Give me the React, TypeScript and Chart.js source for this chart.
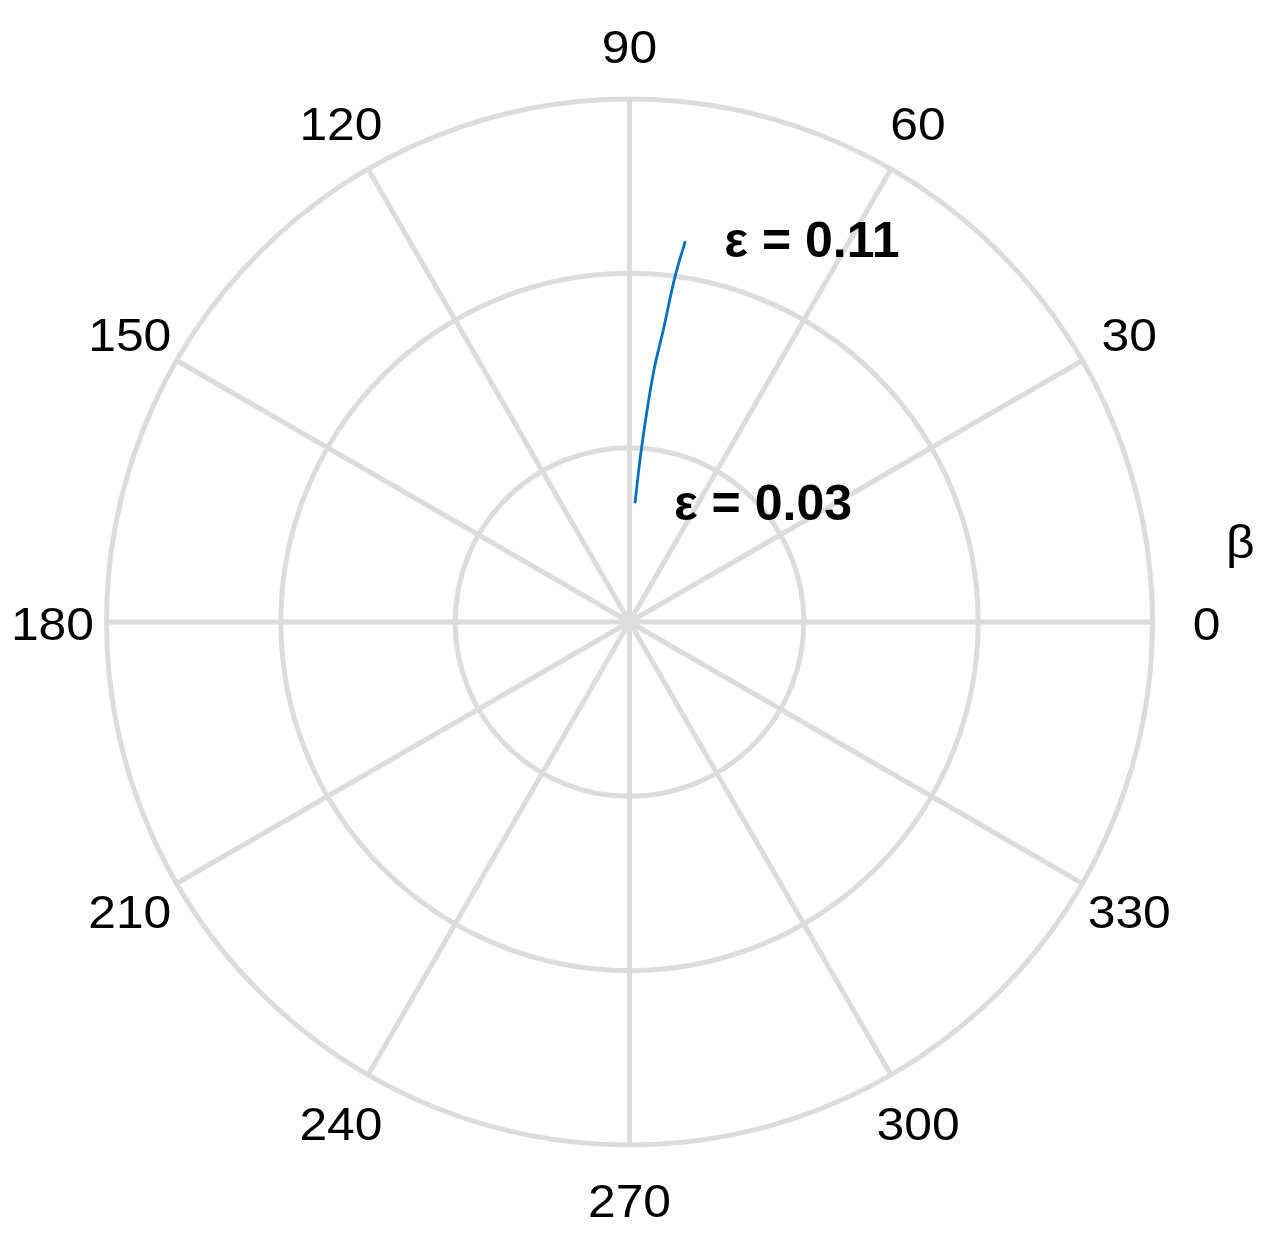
import React, { useEffect, useRef } from "react";
import { Chart, registerables } from "chart.js";

Chart.register(...registerables);

// Curve in polar coordinates: angle (degrees) and radius (ring units, outer ring = 3)
const thetaDeg = [87.35, 86.02, 84.53, 83.4, 82.49, 81.66];
const radius = [0.682, 1.008, 1.433, 1.686, 1.998, 2.208];

const ringValues = [1, 2, 3];
const spokeAngles = [0, 30, 60, 90, 120, 150, 180, 210, 240, 270, 300, 330];
const spokeLabels = ["0", "30", "60", "90", "120", "150", "180", "210", "240", "270", "300", "330"];
const annotationTexts = ["ε = 0.03", "ε = 0.11"];
const axisTitle = "β";

const RMAX = 3;
const LABEL_R = 3.31;
const GRID = "#dcdcdc";

function stretchedText(ctx: any, text: string, x: number, y: number, sx: number) {
  ctx.save();
  ctx.translate(x, y);
  ctx.scale(sx, 1);
  ctx.fillText(text, 0, 0);
  ctx.restore();
}

const polarGrid = {
  id: "polarGrid",
  beforeDatasetsDraw(chart: any) {
    const { ctx, scales } = chart;
    const xs = scales.x;
    const ys = scales.y;
    const cx = xs.getPixelForValue(0);
    const cy = ys.getPixelForValue(0);
    const unit = xs.getPixelForValue(1) - cx;
    ctx.save();
    ctx.strokeStyle = GRID;
    ctx.lineWidth = 5;
    for (const a of spokeAngles) {
      const t = (a * Math.PI) / 180;
      ctx.beginPath();
      ctx.moveTo(cx, cy);
      ctx.lineTo(xs.getPixelForValue(RMAX * Math.cos(t)), ys.getPixelForValue(RMAX * Math.sin(t)));
      ctx.stroke();
    }
    for (const r of ringValues) {
      ctx.beginPath();
      ctx.arc(cx, cy, r * unit, 0, Math.PI * 2);
      ctx.stroke();
    }
    ctx.fillStyle = "#000";
    ctx.font = "47px 'Liberation Sans', Arial, sans-serif";
    ctx.textAlign = "center";
    ctx.textBaseline = "middle";
    spokeAngles.forEach((a, i) => {
      const t = (a * Math.PI) / 180;
      stretchedText(
        ctx,
        spokeLabels[i],
        xs.getPixelForValue(LABEL_R * Math.cos(t)),
        ys.getPixelForValue(LABEL_R * Math.sin(t)) + 5,
        1.06
      );
    });
    // axis title β
    ctx.font = "47px 'Liberation Sans', Arial, sans-serif";
    stretchedText(ctx, axisTitle, xs.getPixelForValue(RMAX * 1.168), ys.getPixelForValue(0.44), 1.06);
    ctx.restore();
  },
  afterDatasetsDraw(chart: any) {
    const { ctx } = chart;
    const pts = chart.getDatasetMeta(0).data;
    const first = pts[0];
    const last = pts[pts.length - 1];
    ctx.save();
    ctx.fillStyle = "#000";
    ctx.font = "bold 50px 'Liberation Sans', Arial, sans-serif";
    ctx.textAlign = "left";
    ctx.textBaseline = "middle";
    ctx.fillText(annotationTexts[0], first.x + 39, first.y + 3);
    ctx.fillText(annotationTexts[1], last.x + 39, last.y + 2);
    ctx.restore();
  },
};

export default function App() {
  const ref = useRef<HTMLCanvasElement>(null);
  useEffect(() => {
    document.body.style.margin = "0";
    const data = thetaDeg.map((d, i) => {
      const t = (d * Math.PI) / 180;
      return { x: radius[i] * Math.cos(t), y: radius[i] * Math.sin(t) };
    });
    const chart = new Chart(ref.current!, {
      type: "scatter",
      data: {
        datasets: [
          {
            data,
            showLine: true,
            borderColor: "#0072BD",
            borderWidth: 2.8,
            pointRadius: 0,
            tension: 0.4,
            fill: false,
          },
        ],
      },
      options: {
        responsive: false,
        animation: false,
        layout: { padding: { left: 106.5, right: 120.5, top: 99, bottom: 95 } },
        plugins: { legend: { display: false }, tooltip: { enabled: false } },
        scales: {
          x: { type: "linear", min: -RMAX, max: RMAX, display: false },
          y: { type: "linear", min: -RMAX, max: RMAX, display: false },
        },
      },
      plugins: [polarGrid],
    });
    return () => chart.destroy();
  }, []);
  return (
    <div style={{ position: "absolute", left: 0, top: 0, width: 1273, height: 1240, background: "#fff" }}>
      <canvas ref={ref} width={1273} height={1240} />
    </div>
  );
}
